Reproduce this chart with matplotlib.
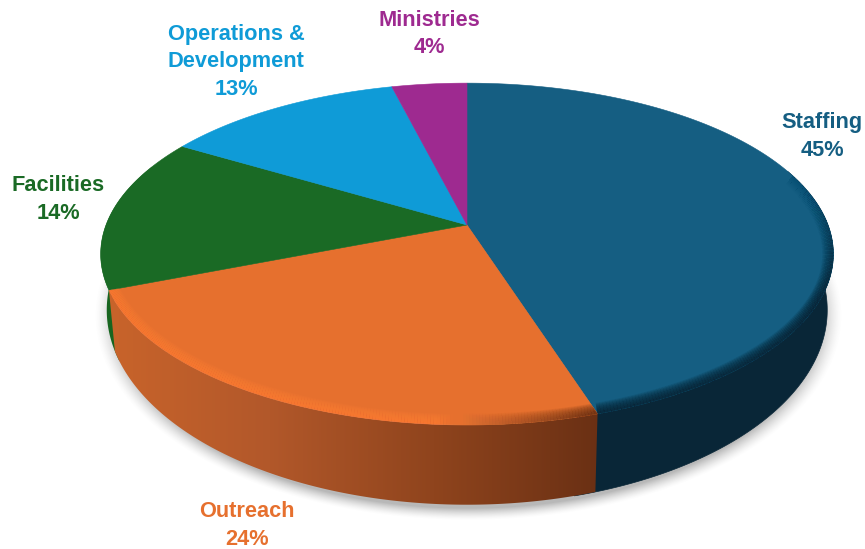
# Recreate the 3D budget pie chart
import numpy as np
import matplotlib
matplotlib.use("Agg")
import matplotlib.pyplot as plt
from matplotlib.patches import Polygon
from matplotlib.collections import LineCollection
from matplotlib.colors import to_rgb

# Chart data, clockwise from 12 o'clock
categories = ["Staffing", "Outreach", "Facilities", "Operations &\nDevelopment", "Ministries"]
percent_labels = ["45%", "24%", "14%", "13%", "4%"]
# Slice sizes as measured on the picture, they differ a little from the rounded labels
slice_sizes = [45.1, 23.9, 14.6, 12.5, 3.9]

# Colours for each slice and its label
top_colors = ["#155e82", "#e6702e", "#1a6a25", "#0f9bd7", "#9e2a90"]
label_colors = ["#155e82", "#e6702e", "#1a6a25", "#0f9bd7", "#9e2a90"]

# Label centres in pixels, one per category
label_x = [822, 247, 58, 236, 429]
label_y = [136.5, 525.5, 199.5, 62, 34]

# Perspective settings for the top face and the bottom rim
TOP = dict(cx=467, cy=225, ax=361, by=166)
BOTTOM = dict(cx=467, cy=277, ax=355, by=189)
TILT = 0.17


def project(degrees, radius, face):
    """Turn a clockwise angle from 12 o'clock into pixels on the tilted disc."""
    rad = np.radians(degrees)
    u = radius * np.sin(rad)
    v = -radius * np.cos(rad)
    w = 1 - TILT * v
    return face["cx"] + face["ax"] * u / w, face["cy"] + face["by"] * v / w


def rim_points(start, end, face):
    angles = np.linspace(start, end, 200)
    x, y = project(angles, 1.0, face)
    return np.column_stack([x, y])


def side_points(start, end):
    return np.vstack([rim_points(start, end, TOP), rim_points(end, start, BOTTOM)])


def draw_rim(ax, start, end, colors_at, clip_patch, zorder):
    """Soft shading along the top rim, many thin see-through strokes kept inside the wedge."""
    points = rim_points(start, end, TOP)
    segments = np.stack([points[:-1], points[1:]], axis=1)
    fractions = np.linspace(0, 1, len(segments))
    for width in np.arange(16, 1, -1):
        colors = []
        for f in fractions:
            red, green, blue, strength = colors_at(f)
            colors.append((red, green, blue, 0.1 * strength))
        rim_lines = LineCollection(segments, colors=colors, linewidths=width, capstyle="butt", zorder=zorder)
        ax.add_collection(rim_lines)
        rim_lines.set_clip_path(clip_patch)


fig = plt.figure(figsize=(8.65, 5.49), dpi=100)
ax = fig.add_axes([0, 0, 1, 1])
ax.set_xlim(0, 865)
ax.set_ylim(549, 0)
ax.axis("off")

# Slice edges in degrees
edges = np.cumsum([0] + slice_sizes) * 3.6

# Soft grey shadow under the pie
grid_x, grid_y = np.meshgrid(np.arange(865), np.arange(549))
ellipse_r = np.sqrt(((grid_x - 468) / 374) ** 2 + ((grid_y - 315) / 205) ** 2)
shadow = np.zeros((549, 865, 4))
shadow[..., :3] = 0.45
shadow[..., 3] = np.clip((1.0 - ellipse_r) / 0.06, 0, 1) ** 1.5 * 0.5
ax.imshow(shadow, extent=(0, 865, 549, 0), zorder=1, interpolation="bilinear", aspect="auto")

# Side walls that can be seen, the blue one runs a bit under the orange one
ax.add_patch(Polygon(side_points(edges[2] - 3, 292), closed=True, fc="#17651f", ec="none", zorder=2))
ax.add_patch(Polygon(side_points(70, edges[1] + 3), closed=True, fc="#092637", ec="#092637", lw=0.5, zorder=2))

# Orange wall gets a left to right gradient clipped to its outline
orange_wall = Polygon(side_points(edges[1], edges[2]), closed=True, fc="none", ec="none", zorder=3)
ax.add_patch(orange_wall)
gradient_stops = np.array([to_rgb(c) for c in ["#c9642b", "#b2582a", "#8f441d", "#6a3014"]])
gradient_x = np.linspace(0, 1, 256)
gradient_rgb = np.stack([np.interp(gradient_x, np.linspace(0, 1, 4), gradient_stops[:, i]) for i in range(3)], axis=-1)
wall_image = ax.imshow(gradient_rgb[np.newaxis, :, :], extent=(104, 600, 510, 280), zorder=3, aspect="auto")
wall_image.set_clip_path(orange_wall)
ax.set_xlim(0, 865)
ax.set_ylim(549, 0)

# Top faces, one wedge per category
wedges = []
for i in range(len(slice_sizes)):
    outline = np.vstack([[TOP["cx"], TOP["cy"]], rim_points(edges[i], edges[i + 1], TOP)])
    wedge = Polygon(outline, closed=True, fc=top_colors[i], ec=top_colors[i], lw=0.4, zorder=4)
    ax.add_patch(wedge)
    wedges.append(wedge)


# Orange rim is bright on the left and falls into shadow on the right
def orange_rim_color(fraction):
    dark = np.array(to_rgb("#5e2c12"))
    bright = np.array(to_rgb("#ff8038"))
    mix = min(fraction / 0.25, 1.0)
    red, green, blue = dark + (bright - dark) * mix
    return red, green, blue, 1.0


# Blue rim shadow fades in going round from the upper right
def blue_rim_color(fraction):
    red, green, blue = to_rgb("#082534")
    return red, green, blue, min(fraction / 0.5, 1.0) ** 2


draw_rim(ax, edges[1], edges[2], orange_rim_color, wedges[1], 5)
draw_rim(ax, 65, edges[1], blue_rim_color, wedges[0], 5)

# Labels
for i in range(len(categories)):
    ax.text(label_x[i], label_y[i], f"{categories[i]}\n{percent_labels[i]}", color=label_colors[i],
            family="Liberation Sans", fontweight="bold", fontsize=15.7, ha="center", va="center",
            linespacing=1.38, zorder=6)

fig.savefig("out.png", dpi=100)
